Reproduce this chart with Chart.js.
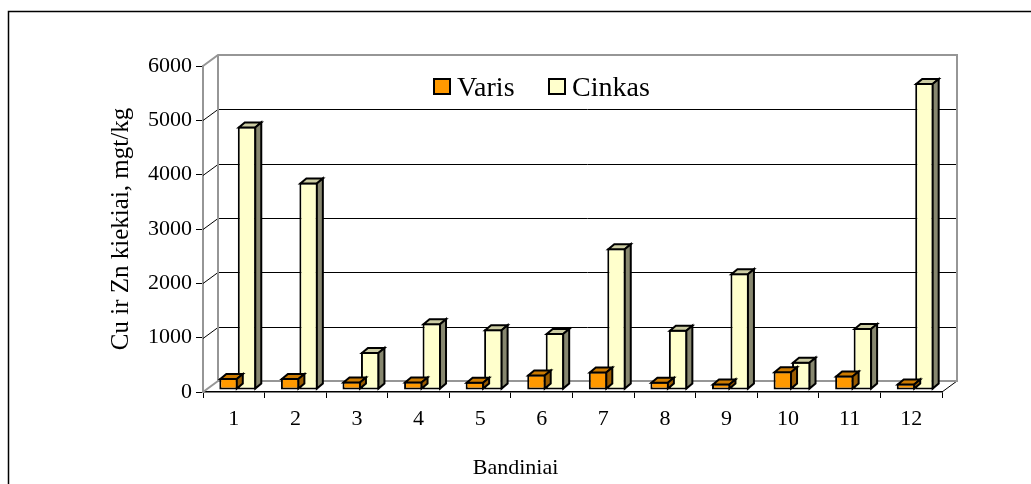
<!DOCTYPE html>
<html>
<head>
<meta charset="utf-8">
<script src="https://cdn.jsdelivr.net/npm/chart.js@4"></script>
<style>
  html, body { margin: 0; padding: 0; background: #fff; }
  #wrap { width: 1031px; height: 484px; }
</style>
</head>
<body>
<div id="wrap"><canvas id="grafikas" width="1031" height="484"></canvas></div>
<script>
const bandiniai = ['1', '2', '3', '4', '5', '6', '7', '8', '9', '10', '11', '12'];
const varis = [220, 220, 155, 155, 150, 285, 340, 150, 120, 345, 265, 120];
const cinkas = [4850, 3820, 700, 1230, 1120, 1050, 2610, 1110, 2150, 520, 1140, 5650];
const yMax = 6000;
const yStep = 1000;

const SERIF = '"Liberation Serif", "Times New Roman", serif';

// gylis: sienos ir stulpeliu 3D poslinkis
const WALL_DX = 15, WALL_DY = 11;
const BAR_DX = 6, BAR_DY = 5;

const trimatis = {
    id: 'trimatis',
    beforeDraw(chart) {
        const ctx = chart.ctx;
        ctx.save();
        ctx.strokeStyle = '#000';
        ctx.lineWidth = 1.5;
        ctx.beginPath();
        ctx.moveTo(8.5, chart.height);
        ctx.lineTo(8.5, 11.5);
        ctx.lineTo(chart.width, 11.5);
        ctx.stroke();
        ctx.restore();
    },
    beforeDatasetsDraw(chart) {
        const ctx = chart.ctx;
        const a = chart.chartArea;
        const ys = chart.scales.y;
        const y0 = ys.getPixelForValue(0);
        const yTop = ys.getPixelForValue(yMax);

        ctx.save();
        // tinklelis kaireje sienoje ir gale
        ctx.strokeStyle = '#000';
        ctx.lineWidth = 1;
        for (let v = yStep; v < yMax; v += yStep) {
            const y = Math.round(ys.getPixelForValue(v)) + 0.5;
            ctx.beginPath();
            ctx.moveTo(a.left, y);
            ctx.lineTo(a.left + WALL_DX, y - WALL_DY);
            ctx.lineTo(a.right + WALL_DX, y - WALL_DY);
            ctx.stroke();
        }
        ctx.beginPath();
        ctx.moveTo(a.right, y0);
        ctx.lineTo(a.right + WALL_DX, y0 - WALL_DY);
        ctx.stroke();

        // sienu krastai
        ctx.strokeStyle = '#969696';
        ctx.lineWidth = 2;
        ctx.beginPath();
        ctx.moveTo(a.left, yTop);
        ctx.lineTo(a.left + WALL_DX, yTop - WALL_DY);
        ctx.lineTo(a.right + WALL_DX, yTop - WALL_DY);
        ctx.lineTo(a.right + WALL_DX, y0 - WALL_DY);
        ctx.lineTo(a.left + WALL_DX, y0 - WALL_DY);
        ctx.lineTo(a.left + WALL_DX, yTop - WALL_DY);
        ctx.moveTo(a.left, y0);
        ctx.lineTo(a.left + WALL_DX, y0 - WALL_DY);
        ctx.stroke();
        ctx.restore();

        ctx.save();
        ctx.translate(4, -2);
    },
    afterDatasetDraw(chart, args) {
        const ctx = chart.ctx;
        const ds = chart.data.datasets[args.index];
        ctx.save();
        ctx.strokeStyle = '#000';
        ctx.lineWidth = 2;
        ctx.lineJoin = 'miter';
        args.meta.data.forEach(bar => {
            const { x, y, base, width } = bar.getProps(['x', 'y', 'base', 'width'], true);
            const l = x - width / 2 + 1, r = x + width / 2 - 1;
            const t = y + 1, b = base - 1;

            ctx.beginPath();
            ctx.moveTo(l, t);
            ctx.lineTo(r, t);
            ctx.lineTo(r + BAR_DX, t - BAR_DY);
            ctx.lineTo(l + BAR_DX, t - BAR_DY);
            ctx.closePath();
            ctx.fillStyle = ds.topColor;
            ctx.fill();
            ctx.stroke();

            ctx.beginPath();
            ctx.moveTo(r, t);
            ctx.lineTo(r + BAR_DX, t - BAR_DY);
            ctx.lineTo(r + BAR_DX, b - BAR_DY);
            ctx.lineTo(r, b);
            ctx.closePath();
            ctx.fillStyle = ds.sideColor;
            ctx.fill();
            ctx.stroke();
        });
        ctx.restore();
    },
    afterDatasetsDraw(chart) {
        const ctx = chart.ctx;
        ctx.restore();

        // legenda grafiko viduje
        const items = [{ x: 434, tx: 457 }, { x: 549, tx: 572 }];
        ctx.save();
        ctx.font = '28px ' + SERIF;
        ctx.textBaseline = 'alphabetic';
        ctx.textAlign = 'left';
        chart.data.datasets.forEach((ds, i) => {
            const it = items[i];
            ctx.fillStyle = ds.backgroundColor;
            ctx.fillRect(it.x, 79, 16, 15);
            ctx.strokeStyle = '#000';
            ctx.lineWidth = 2;
            ctx.strokeRect(it.x, 79, 16, 15);
            ctx.fillStyle = '#000';
            ctx.fillText(ds.label, it.tx, 96);
        });
        ctx.restore();
    }
};

new Chart(document.getElementById('grafikas'), {
    type: 'bar',
    data: {
        labels: bandiniai,
        datasets: [
            {
                label: 'Varis',
                data: varis,
                yAxisID: 'y',
                backgroundColor: '#FF9900',
                topColor: '#CC7A00',
                sideColor: '#995C00',
                borderColor: '#000',
                borderWidth: 2,
                borderSkipped: false,
                clip: false
            },
            {
                label: 'Cinkas',
                data: cinkas,
                yAxisID: 'y',
                backgroundColor: '#FFFFCC',
                topColor: '#CCCCA3',
                sideColor: '#87876F',
                borderColor: '#000',
                borderWidth: 2,
                borderSkipped: false,
                clip: false
            }
        ]
    },
    options: {
        responsive: false,
        animation: false,
        categoryPercentage: 0.6,
        barPercentage: 1,
        layout: { padding: { top: 66, left: 0, right: 0, bottom: 0 } },
        plugins: {
            legend: { display: false },
            tooltip: { enabled: false },
            title: {
                display: true,
                position: 'bottom',
                text: 'Bandiniai',
                color: '#000',
                font: { family: SERIF, size: 22, weight: 'normal' },
                padding: { top: 0, bottom: 3 }
            }
        },
        scales: {
            x: {
                grid: {
                    offset: true,
                    drawOnChartArea: false,
                    tickLength: 6,
                    tickColor: '#000',
                    lineWidth: 1
                },
                border: { color: '#000', width: 1.5 },
                ticks: {
                    color: '#000',
                    padding: 8,
                    maxRotation: 0,
                    font: { family: SERIF, size: 22 }
                },
                afterFit: s => { s.height = 62.6; }
            },
            y: {
                position: 'left',
                min: 0,
                max: yMax,
                grid: {
                    drawOnChartArea: false,
                    tickLength: 7,
                    tickColor: '#000',
                    lineWidth: 1
                },
                border: { color: '#969696', width: 2 },
                ticks: {
                    stepSize: yStep,
                    color: '#000',
                    padding: 4,
                    font: { family: SERIF, size: 22 },
                    callback: v => String(v)
                },
                title: {
                    display: true,
                    text: 'Cu ir Zn kiekiai, mgt/kg',
                    color: '#000',
                    font: { family: SERIF, size: 25 },
                    padding: { top: 106, bottom: 0 }
                },
                afterFit: s => { s.width = 203; }
            },
            // tuscia vieta desineje nuo grafiko iki krasto
            tarpas: {
                type: 'linear',
                position: 'right',
                grid: { display: false },
                border: { display: false },
                ticks: { display: false },
                afterFit: s => { s.width = 89; }
            }
        }
    },
    plugins: [trimatis]
});
</script>
</body>
</html>
